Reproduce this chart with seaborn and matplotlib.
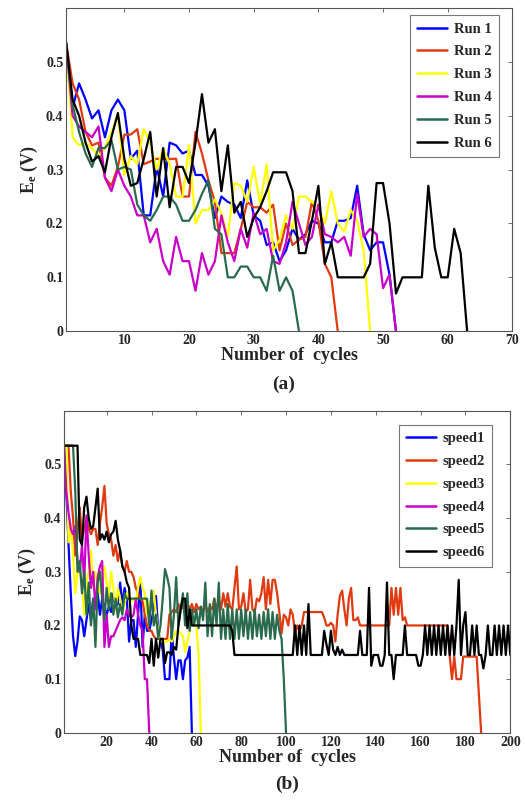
import numpy as np
import pandas as pd
import matplotlib
matplotlib.use("Agg")
import matplotlib.pyplot as plt
import seaborn as sns

# ---------------- Panel (a) data ----------------
run1 = [0.535,0.415,0.46,0.43,0.395,0.41,0.36,0.41,0.43,0.41,
        0.32,0.335,0.215,0.215,0.305,0.25,0.35,0.345,0.33,0.335,
        0.29,0.29,0.27,0.21,0.25,0.24,0.235,0.21,0.28,0.215,
        0.205,0.16,0.165,0.13,0.15,0.19,0.17,0.18,0.205,0.2,
        0.165,0.165,0.205,0.205,0.21,0.27,0.18,0.15,0.165,0.165,
        0.105,0.0]
run2 = [0.535,0.46,0.43,0.37,0.345,0.35,0.285,0.27,0.305,0.365,
        0.365,0.375,0.31,0.315,0.32,0.32,0.32,0.32,0.25,0.25,
        0.37,0.33,0.28,0.24,0.145,0.145,0.145,0.19,0.24,0.23,
        0.23,0.22,0.235,0.15,0.2,0.16,0.17,0.175,0.24,0.205,
        0.125,0.1,0.0]
run3 = [0.535,0.36,0.345,0.35,0.34,0.325,0.34,0.37,0.4,0.29,
        0.325,0.31,0.375,0.35,0.3,0.34,0.31,0.25,0.25,0.345,
        0.2,0.225,0.225,0.245,0.22,0.175,0.275,0.27,0.24,0.305,
        0.235,0.31,0.15,0.17,0.215,0.19,0.25,0.25,0.24,0.23,
        0.2,0.26,0.2,0.185,0.225,0.205,0.15,0.0]
run4 = [0.535,0.4,0.38,0.37,0.36,0.38,0.285,0.26,0.3,0.27,
        0.25,0.215,0.215,0.165,0.19,0.13,0.105,0.175,0.13,0.13,
        0.075,0.145,0.105,0.13,0.215,0.165,0.13,0.19,0.155,0.22,
        0.18,0.19,0.13,0.125,0.165,0.24,0.2,0.16,0.175,0.235,
        0.18,0.175,0.165,0.175,0.14,0.255,0.175,0.19,0.18,0.08,
        0.105,0.0]
run5 = [0.535,0.42,0.37,0.33,0.305,0.34,0.34,0.355,0.3,0.305,
        0.3,0.235,0.215,0.205,0.225,0.25,0.25,0.235,0.205,0.205,
        0.225,0.255,0.28,0.19,0.18,0.1,0.1,0.12,0.12,0.1,
        0.1,0.075,0.14,0.075,0.1,0.075,0.0]
run6 = [0.535,0.43,0.4,0.35,0.315,0.325,0.295,0.36,0.405,0.32,
        0.27,0.275,0.32,0.37,0.25,0.34,0.23,0.305,0.305,0.275,
        0.35,0.44,0.35,0.375,0.26,0.345,0.22,0.24,0.175,0.21,
        0.23,0.26,0.295,0.295,0.295,0.26,0.145,0.145,0.205,0.27,
        0.125,0.165,0.1,0.1,0.1,0.1,0.1,0.125,0.275,0.275,
        0.2,0.07,0.1,0.1,0.1,0.1,0.27,0.155,0.1,0.1,
        0.19,0.145,0.0]
runs_a = {"Run 1": run1, "Run 2": run2, "Run 3": run3,
          "Run 4": run4, "Run 5": run5, "Run 6": run6}

# ---------------- Panel (b) data ----------------
speed1 = [0.535,0.45,0.35,0.26,0.18,0.143,0.17,0.217,0.21,0.18,
          0.21,0.24,0.21,0.25,0.235,0.26,0.22,0.25,0.235,0.22,
          0.235,0.225,0.26,0.235,0.24,0.28,0.24,0.27,0.25,0.17,
          0.21,0.21,0.16,0.22,0.285,0.16,0.22,0.19,0.19,0.21,
          0.23,0.255,0.19,0.17,0.155,0.1,0.1,0.1,0.19,0.14,
          0.1,0.135,0.135,0.1,0.135,0.14,0.16,0.0]
speed2 = ([0.535,0.535,0.535,0.45,0.4,0.33,0.38,0.42,0.36,0.38,
           0.4,0.38,0.37,0.38,0.38,0.35,0.39,0.42,0.46,0.39,
           0.37,0.36,0.33,0.35,0.32,0.34,0.31,0.3,0.32,0.3,
           0.3,0.29,0.27,0.26,0.25,0.245,0.22,0.2,0.19,0.19,
           0.18,0.175,0.175,0.175,0.175,0.175,0.175,0.22,0.225,0.23,
           0.225,0.24,0.23,0.235,0.225,0.24,0.23,0.24,0.225,0.24,
           0.23,0.235,0.225,0.24,0.225,0.235,0.23,0.25,0.23,0.25,
           0.23,0.26,0.235,0.26,0.235,0.23,0.27,0.31,0.23,0.235,
           0.26,0.225,0.23,0.285,0.23,0.225,0.25,0.245,0.26,0.29,
           0.23,0.285,0.24,0.285,0.285,0.26,0.225,0.185,0.22,0.215,
           0.2,0.23,0.22,0.185,0.2,0.19,0.2,0.225]
          + [0.225] * 8
          + [0.215,0.2,0.2,0.205,0.2,0.17,0.22,0.255,0.265,0.23,
             0.2,0.25,0.27,0.21,0.21,0.215,0.2]
          + [0.2] * 13
          + [0.27,0.22,0.27,0.22,0.27,0.21,0.215]
          + [0.2] * 19
          + [0.142,0.1,0.142,0.1,0.1,0.1,0.142]
          + [0.142] * 6
          + [0.07,0.0])
speed3 = [0.535,0.535,0.355,0.39,0.33,0.26,0.3,0.3,0.28,0.22,
          0.28,0.3,0.34,0.27,0.3,0.28,0.26,0.27,0.31,0.28,
          0.25,0.3,0.27,0.23,0.27,0.25,0.225,0.24,0.26,0.25,
          0.245,0.25,0.245,0.27,0.29,0.27,0.26,0.22,0.24,0.25,
          0.265,0.22,0.19,0.17,0.17,0.17,0.17,0.175,0.17,0.18,
          0.19,0.19,0.185,0.18,0.15,0.17,0.19,0.22,0.2,0.2,
          0.145,0.0]
speed4 = [0.535,0.45,0.41,0.38,0.37,0.385,0.32,0.3,0.35,0.28,
          0.405,0.33,0.27,0.3,0.23,0.29,0.31,0.32,0.16,0.22,
          0.16,0.18,0.18,0.19,0.2,0.21,0.215,0.21,0.23,0.22,
          0.215,0.22,0.25,0.22,0.2,0.19,0.1,0.1,0.0]
speed5 = ([0.535] * 5
          + [0.45,0.3,0.32,0.26,0.3,0.22,0.28,0.2,0.25,0.16,
             0.28,0.3,0.25,0.21,0.27,0.23,0.26,0.22,0.25,0.215,
             0.24,0.22,0.26]
          + [0.25] * 10
          + [0.2,0.265,0.2,0.22,0.175,0.2,0.25,0.305,0.29,0.27,
             0.175,0.22,0.29,0.2,0.23,0.26,0.2,0.26,0.19,0.23,
             0.2,0.23,0.195,0.235,0.21,0.28,0.18,0.24,0.18,0.25,
             0.2,0.28,0.175,0.23,0.175,0.24,0.175,0.23,0.175,0.23,
             0.175,0.23,0.18,0.23,0.175,0.225,0.175,0.23,0.18,0.22,
             0.175,0.225,0.18,0.23,0.175,0.225,0.175,0.22,0.19,0.175,
             0.1,0.0])
speed6 = ([0.535] * 7
          + [0.36,0.35,0.42,0.44,0.4,0.38,0.385,0.42,0.455,0.36,
             0.37,0.36,0.375,0.355,0.37,0.375,0.395,0.36,0.34,0.31,
             0.3,0.28,0.27,0.2,0.175,0.175,0.175,0.145,0.145,0.145,
             0.145,0.13,0.175,0.125,0.175,0.14,0.175,0.175,0.13,0.15,
             0.15,0.145,0.16,0.155,0.2,0.23,0.25,0.25,0.195,0.23,
             0.2]
          + [0.2] * 17
          + [0.19]
          + [0.145] * 27
          + [0.2,0.145,0.2,0.145,0.2,0.145,0.24]
          + [0.145] * 6
          + [0.19,0.165,0.145,0.19,0.155,0.145,0.16,0.145,0.155]
          + [0.145] * 7
          + [0.19,0.145,0.145,0.145,0.27,0.125,0.145,0.145,0.145,0.125,
             0.125,0.145,0.28,0.145,0.145,0.1,0.145,0.145,0.145,0.145,
             0.2]
          + [0.145] * 5
          + [0.125,0.125,0.145]
          + [0.2,0.145] * 7
          + [0.2,0.285,0.145,0.2,0.225,0.145,0.145,0.2,0.145,0.2,
             0.145,0.145,0.12,0.145,0.2,0.145,0.145,0.2,0.145,0.2,
             0.145,0.2,0.145,0.2,0.145])
runs_b = {"speed1": speed1, "speed2": speed2, "speed3": speed3,
          "speed4": speed4, "speed5": speed5, "speed6": speed6}

colors = ["#0000FF", "#E03A10", "#FFFF00", "#C800C8", "#2A6B4E", "#000000"]


def to_long(d):
    frames = []
    for name, vals in d.items():
        frames.append(pd.DataFrame({"cycle": np.arange(1, len(vals) + 1),
                                    "value": vals, "series": name}))
    return pd.concat(frames, ignore_index=True)


df_a = to_long(runs_a)
df_b = to_long(runs_b)

sns.set_style("white")
plt.rcParams["font.family"] = ["Liberation Serif", "DejaVu Serif"]
plt.rcParams["font.weight"] = "bold"
plt.rcParams["mathtext.fontset"] = "custom"
plt.rcParams["mathtext.rm"] = "Liberation Serif:bold"
plt.rcParams["mathtext.it"] = "Liberation Serif:bold"
plt.rcParams["mathtext.bf"] = "Liberation Serif:bold"

fig = plt.figure(figsize=(5.25, 8), dpi=100)
ax_a = fig.add_axes([0.126, 0.586, 0.85, 0.404])
ax_b = fig.add_axes([0.122, 0.084, 0.85, 0.4025])


def style_axes(ax, xlim, xticks):
    ax.set_xlim(*xlim)
    ax.set_ylim(0, 0.6)
    ax.set_xticks(xticks)
    ax.set_xticklabels([str(t) for t in xticks])
    ax.set_yticks([0, 0.1, 0.2, 0.3, 0.4, 0.5])
    ax.set_yticklabels(["0", "0.1", "0.2", "0.3", "0.4", "0.5"])
    ax.tick_params(direction="in", length=3, width=0.6, top=True, right=True,
                   labelsize=10, pad=2, color="#555555")
    for lab in ax.get_xticklabels() + ax.get_yticklabels():
        lab.set_fontweight("bold")
    for sp in ax.spines.values():
        sp.set_color("#555555")
        sp.set_linewidth(0.8)
        sp.set_visible(True)
    ax.set_xlabel("Number of  cycles", fontsize=13, fontweight="bold", labelpad=0)
    ax.set_ylabel(r"E$_{\mathrm{e}}$ (V)", fontsize=13, fontweight="bold", labelpad=4)


panels = [(ax_a, df_a, (1, 70), list(range(10, 71, 10)), (0.969, 0.978)),
          (ax_b, df_b, (1, 200), list(range(20, 201, 20)), (0.960, 0.957))]
for ax, df, xlim, xticks, anchor in panels:
    sns.lineplot(data=df, x="cycle", y="value", hue="series", palette=colors,
                 estimator=None, sort=False, linewidth=1.6, ax=ax)
    style_axes(ax, xlim, xticks)
    leg = ax.legend(loc="upper right", bbox_to_anchor=anchor, frameon=True, fancybox=False,
                    prop={"family": "Liberation Serif", "weight": "bold", "size": 10.5},
                    handlelength=2.05, handletextpad=0.45, labelspacing=0.66,
                    borderpad=0.5, borderaxespad=0.0)
    leg.get_frame().set_edgecolor("#555555")
    leg.get_frame().set_linewidth(0.8)
    for line in leg.get_lines():
        line.set_linewidth(1.8)

fig.text(0.54, 0.519, "(a)", ha="center", va="center", fontsize=14, fontweight="bold")
fig.text(0.547, 0.019, "(b)", ha="center", va="center", fontsize=14, fontweight="bold")

fig.savefig("out.png", dpi=100)
